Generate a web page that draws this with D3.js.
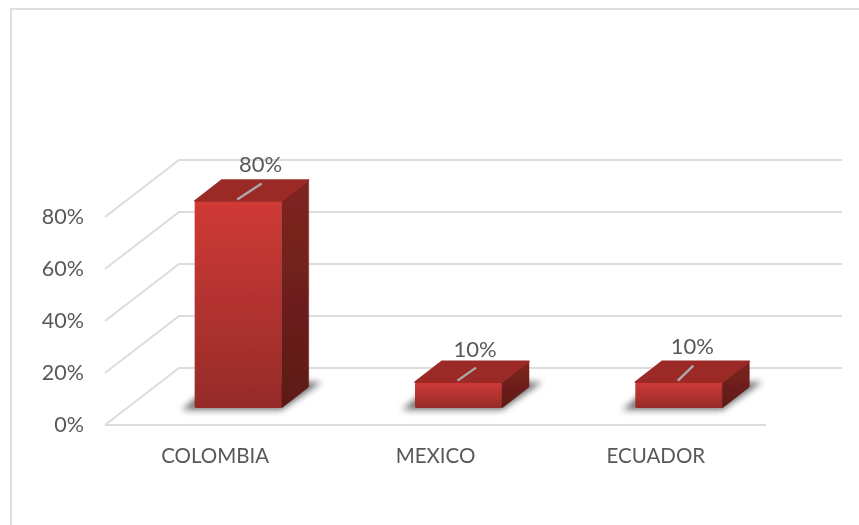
<!DOCTYPE html>
<html>
<head>
<meta charset="utf-8">
<script src="https://cdn.jsdelivr.net/npm/d3@7"></script>
<style>
  html, body { margin: 0; padding: 0; background: white; }
  svg { display: block; }
  text { font-family: Lato, "Open Sans", sans-serif; fill: #595959; }
</style>
</head>
<body>
<div id="viz"></div>
<script>
let w = 859;
let h = 525;

// data
let countries = ["COLOMBIA", "MEXICO", "ECUADOR"];
let shares = [80, 10, 10];
let ticks = [0, 20, 40, 60, 80];

// 3d floor: how far the back wall is pushed from the front edge
let depthX = 74;
let depthY = 57;

let viz = d3.select("#viz")
  .append("svg")
  .attr("width", w)
  .attr("height", h)
  .attr("viewBox", "0 0 " + w + " " + h);

let defs = viz.append("defs");

function gradient(id, top, bottom) {
  let g = defs.append("linearGradient")
    .attr("id", id)
    .attr("x1", 0).attr("y1", 0).attr("x2", 0).attr("y2", 1);
  g.append("stop").attr("offset", "0%").attr("stop-color", top);
  g.append("stop").attr("offset", "100%").attr("stop-color", bottom);
}
gradient("front", "#d03a36", "#952b28");
gradient("side", "#812521", "#5c1916");

defs.append("filter").attr("id", "blur")
  .attr("x", "-30%").attr("y", "-100%").attr("width", "160%").attr("height", "300%")
  .append("feGaussianBlur").attr("stdDeviation", 3);

// the whole screenshot is a bit soft
defs.append("filter").attr("id", "soft")
  .attr("filterUnits", "userSpaceOnUse")
  .attr("x", 0).attr("y", 0).attr("width", w).attr("height", h)
  .append("feGaussianBlur").attr("stdDeviation", 0.45);

let chart = viz.append("g").attr("filter", "url(#soft)");

// outer frame
chart.append("path")
  .attr("d", "M11,525V9H859")
  .attr("fill", "none")
  .attr("stroke", "#dedede")
  .attr("stroke-width", 2);

// scales
let y = d3.scaleLinear().domain([0, 80]).range([425, 217]);
let x = d3.scaleBand().domain(countries).range([105, 766]);
let barW = 87;
let barDx = 27;
let barDy = 21;
let barFloor = 408;
let barH = d3.scaleLinear().domain([0, 80]).range([0, 207]);
// bars sit behind the front edge of the floor, so they shift right of their label
let barX = d => x(d) + x.bandwidth() / 2 + 23;

// gridlines
let grid = chart.append("g")
  .attr("fill", "none")
  .attr("stroke", "#dcdcdc")
  .attr("stroke-width", 2);

grid.selectAll("path.wall")
  .data(ticks)
  .join("path")
  .attr("class", "wall")
  .attr("d", d => {
    let sy = y(d);
    let ex = 105 + depthX;
    let ey = sy - depthY;
    return "M105," + sy + "L" + ex + "," + ey + "H842";
  });

grid.append("line")
  .attr("x1", 105).attr("x2", 766)
  .attr("y1", y(0)).attr("y2", y(0));

// axes
let yAxis = chart.append("g")
  .attr("transform", "translate(90,0)")
  .call(d3.axisLeft(y).tickValues(ticks).tickSize(0).tickPadding(6).tickFormat(d => d + "%"));
yAxis.select(".domain").remove();
yAxis.selectAll("text")
  .attr("font-size", 21.5)
  .attr("dy", "0.3em")
  .style("font-family", "Lato, sans-serif")
  .style("fill", "#595959");

let xAxis = chart.append("g")
  .attr("transform", "translate(0,448)")
  .call(d3.axisBottom(x).tickSize(0).tickPadding(0));
xAxis.select(".domain").remove();
xAxis.selectAll("text")
  .attr("font-size", 20.5)
  .attr("dy", "0.75em")
  .style("font-family", "Lato, sans-serif")
  .style("fill", "#595959");

// bars
let data = countries.map((c, i) => ({ name: c, value: shares[i] }));

let bars = chart.selectAll("g.bar")
  .data(data)
  .join("g")
  .attr("class", "bar")
  .attr("transform", d => "translate(" + (barX(d.name) - barW / 2) + "," + barFloor + ")");

// drop shadow, shows at the left of the foot and the right of the side
bars.append("path")
  .attr("d", "M-13,2L" + barW + ",2L" + (barW + 40) + ",-26L20,-26Z")
  .attr("fill", "#444")
  .attr("opacity", 0.75)
  .attr("filter", "url(#blur)");

bars.append("rect")
  .attr("class", "front")
  .attr("x", 0)
  .attr("y", d => -barH(d.value))
  .attr("width", barW)
  .attr("height", d => barH(d.value))
  .attr("rx", 1.5)
  .attr("fill", "url(#front)");

bars.append("path")
  .attr("d", d => {
    let t = -barH(d.value);
    return "M" + barW + ",0V" + t + "L" + (barW + barDx) + "," + (t - barDy) + "V" + (-barDy) + "Z";
  })
  .attr("fill", "url(#side)")
  .attr("stroke", "url(#side)")
  .attr("stroke-width", 0.5)
  .attr("stroke-linejoin", "round");

bars.append("path")
  .attr("d", d => {
    let t = -barH(d.value);
    return "M0," + t + "L" + barDx + "," + (t - barDy) + "H" + (barW + barDx) + "L" + barW + "," + t + "Z";
  })
  .attr("fill", "#9b2b28")
  .attr("stroke", "#9b2b28")
  .attr("stroke-width", 1.5)
  .attr("stroke-linejoin", "round");

// value labels were dragged by hand in the original, so each has its own offset
let labelDx = [66, 60, 57];
let labelDy = [29, 25, 28];
let leaderLen = [16, 13, 15];

// leader lines running over the top face
bars.append("line")
  .attr("x1", barW / 2 - 1)
  .attr("y1", d => -barH(d.value) - 1.5)
  .attr("x2", (d, i) => labelDx[i] + 1)
  .attr("y2", (d, i) => -barH(d.value) - 1.5 - leaderLen[i])
  .attr("stroke", "#ababab")
  .attr("stroke-width", 2.4);

// value labels
bars.append("text")
  .attr("x", (d, i) => labelDx[i])
  .attr("y", (d, i) => -barH(d.value) - labelDy[i])
  .attr("text-anchor", "middle")
  .attr("font-size", 22)
  .text(d => d.value + "%");
</script>
</body>
</html>
